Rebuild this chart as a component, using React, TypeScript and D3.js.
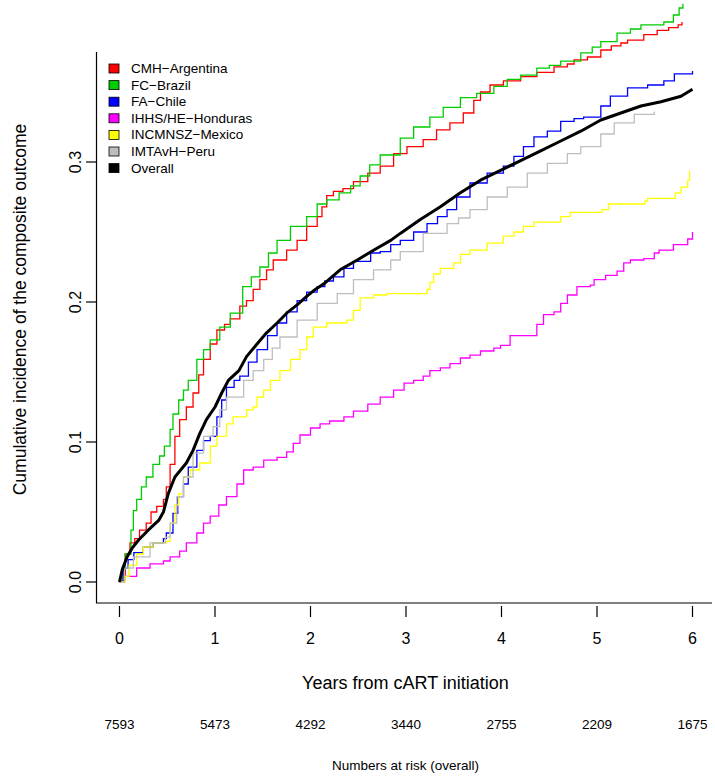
import React from "react";
import * as d3 from "d3";

// cumulative incidence: [years, incidence]
const argentina: [number, number][] = [
  [0, 0], [0.02, 0.001], [0.06, 0.02], [0.11, 0.028], [0.16, 0.031], [0.21, 0.037], [0.28, 0.042],
  [0.33, 0.05], [0.39, 0.054], [0.46, 0.059], [0.49, 0.068], [0.53, 0.084], [0.58, 0.104], [0.63, 0.116],
  [0.7, 0.125], [0.77, 0.135], [0.83, 0.148], [0.88, 0.159], [0.95, 0.17], [1.02, 0.18], [1.1, 0.184],
  [1.16, 0.188], [1.26, 0.197], [1.33, 0.201], [1.4, 0.209], [1.47, 0.216], [1.54, 0.223], [1.61, 0.23],
  [1.75, 0.237], [1.86, 0.244], [1.96, 0.254], [2.07, 0.261], [2.12, 0.268], [2.17, 0.276], [2.24, 0.279],
  [2.34, 0.281], [2.45, 0.286], [2.6, 0.292], [2.73, 0.297], [2.87, 0.306], [3.01, 0.311], [3.18, 0.316],
  [3.32, 0.323], [3.46, 0.328], [3.6, 0.335], [3.71, 0.344], [3.78, 0.35], [3.88, 0.355], [4.02, 0.358],
  [4.2, 0.361], [4.37, 0.364], [4.55, 0.368], [4.69, 0.37], [4.76, 0.373], [4.9, 0.375], [5.04, 0.38],
  [5.15, 0.383], [5.25, 0.385], [5.32, 0.387], [5.49, 0.391], [5.63, 0.394], [5.75, 0.396], [5.85, 0.398],
  [5.89, 0.4],
];

const brazil: [number, number][] = [
  [0, 0], [0.03, 0.009], [0.06, 0.02], [0.12, 0.037], [0.145, 0.051], [0.18, 0.059], [0.23, 0.068],
  [0.28, 0.075], [0.35, 0.084], [0.42, 0.09], [0.47, 0.097], [0.53, 0.109], [0.56, 0.12], [0.62, 0.13],
  [0.67, 0.137], [0.72, 0.144], [0.81, 0.159], [0.88, 0.166], [0.95, 0.173], [1.05, 0.182], [1.16, 0.192],
  [1.29, 0.211], [1.38, 0.218], [1.47, 0.225], [1.56, 0.235], [1.65, 0.244], [1.79, 0.254], [1.96, 0.261],
  [2.07, 0.27], [2.17, 0.273], [2.3, 0.278], [2.42, 0.283], [2.52, 0.29], [2.62, 0.298], [2.73, 0.305],
  [2.94, 0.317], [3.08, 0.325], [3.25, 0.332], [3.39, 0.339], [3.57, 0.346], [3.74, 0.349], [3.92, 0.354],
  [4.06, 0.359], [4.2, 0.362], [4.37, 0.367], [4.5, 0.369], [4.62, 0.372], [4.83, 0.378], [4.95, 0.382],
  [5.04, 0.386], [5.21, 0.392], [5.35, 0.395], [5.46, 0.398], [5.7, 0.4], [5.8, 0.405], [5.86, 0.41],
  [5.9, 0.413],
];

const chile: [number, number][] = [
  [0, 0], [0.04, 0.01], [0.09, 0.016], [0.15, 0.021], [0.25, 0.025], [0.35, 0.028], [0.46, 0.031],
  [0.49, 0.035], [0.56, 0.049], [0.61, 0.061], [0.67, 0.07], [0.72, 0.082], [0.81, 0.094], [0.88, 0.101],
  [0.95, 0.104], [1.02, 0.118], [1.07, 0.13], [1.12, 0.139], [1.2, 0.144], [1.26, 0.147], [1.35, 0.157],
  [1.44, 0.166], [1.55, 0.176], [1.65, 0.185], [1.75, 0.193], [1.86, 0.201], [1.96, 0.207], [2.07, 0.211],
  [2.15, 0.215], [2.24, 0.218], [2.35, 0.224], [2.45, 0.229], [2.63, 0.235], [2.73, 0.236], [2.84, 0.241],
  [2.94, 0.244], [3.08, 0.25], [3.22, 0.256], [3.33, 0.261], [3.43, 0.266], [3.53, 0.275], [3.67, 0.285],
  [3.85, 0.292], [4.02, 0.297], [4.13, 0.304], [4.23, 0.311], [4.34, 0.318], [4.48, 0.322], [4.62, 0.329],
  [4.76, 0.331], [4.86, 0.332], [5.04, 0.34], [5.14, 0.347], [5.32, 0.353], [5.53, 0.355], [5.7, 0.358],
  [5.81, 0.363], [6.0, 0.365],
];

const honduras: [number, number][] = [
  [0, 0], [0.05, 0.004], [0.18, 0.01], [0.32, 0.013], [0.46, 0.015], [0.53, 0.018], [0.63, 0.022],
  [0.7, 0.028], [0.81, 0.035], [0.88, 0.042], [0.95, 0.047], [1.04, 0.055], [1.12, 0.061], [1.23, 0.07],
  [1.3, 0.08], [1.4, 0.082], [1.51, 0.087], [1.65, 0.089], [1.75, 0.093], [1.82, 0.099], [1.89, 0.105],
  [2.0, 0.11], [2.1, 0.113], [2.2, 0.115], [2.35, 0.118], [2.45, 0.122], [2.6, 0.127], [2.73, 0.132],
  [2.87, 0.137], [2.98, 0.142], [3.08, 0.144], [3.18, 0.147], [3.25, 0.151], [3.36, 0.153], [3.46, 0.156],
  [3.57, 0.16], [3.67, 0.162], [3.78, 0.165], [3.92, 0.167], [3.99, 0.169], [4.09, 0.176], [4.32, 0.176],
  [4.37, 0.184], [4.44, 0.191], [4.55, 0.193], [4.62, 0.199], [4.69, 0.205], [4.79, 0.211], [4.93, 0.212],
  [4.97, 0.216], [5.09, 0.219], [5.21, 0.222], [5.28, 0.228], [5.35, 0.23], [5.49, 0.231], [5.6, 0.235],
  [5.65, 0.237], [5.8, 0.241], [5.95, 0.245], [6.0, 0.25],
];

const mexico: [number, number][] = [
  [0, 0], [0.06, 0.004], [0.1, 0.012], [0.18, 0.02], [0.25, 0.025], [0.35, 0.028], [0.49, 0.029],
  [0.53, 0.042], [0.58, 0.055], [0.62, 0.063], [0.67, 0.075], [0.74, 0.08], [0.84, 0.085], [0.95, 0.097],
  [1.02, 0.104], [1.12, 0.113], [1.19, 0.118], [1.33, 0.123], [1.4, 0.125], [1.44, 0.132], [1.51, 0.137],
  [1.58, 0.144], [1.68, 0.151], [1.79, 0.159], [1.89, 0.166], [1.96, 0.175], [2.03, 0.182], [2.17, 0.185],
  [2.38, 0.187], [2.45, 0.194], [2.52, 0.203], [2.66, 0.205], [2.8, 0.206], [3.22, 0.209], [3.25, 0.214],
  [3.29, 0.22], [3.36, 0.224], [3.5, 0.228], [3.57, 0.234], [3.67, 0.237], [3.85, 0.242], [4.02, 0.247],
  [4.13, 0.25], [4.23, 0.254], [4.34, 0.257], [4.62, 0.261], [4.72, 0.264], [5.05, 0.266], [5.12, 0.27],
  [5.5, 0.272], [5.53, 0.274], [5.82, 0.278], [5.88, 0.282], [5.95, 0.287], [5.97, 0.294],
];

const peru: [number, number][] = [
  [0, 0], [0.05, 0.01], [0.145, 0.018], [0.32, 0.028], [0.48, 0.032], [0.53, 0.042], [0.6, 0.061],
  [0.67, 0.075], [0.77, 0.092], [0.88, 0.104], [0.98, 0.111], [1.05, 0.123], [1.12, 0.132], [1.3, 0.144],
  [1.4, 0.151], [1.51, 0.159], [1.6, 0.167], [1.68, 0.175], [1.86, 0.187], [2.07, 0.199], [2.28, 0.206],
  [2.45, 0.216], [2.66, 0.223], [2.84, 0.23], [2.94, 0.236], [3.18, 0.249], [3.43, 0.256], [3.55, 0.26],
  [3.67, 0.266], [3.85, 0.275], [4.06, 0.282], [4.27, 0.292], [4.48, 0.299], [4.69, 0.306], [4.83, 0.311],
  [5.04, 0.32], [5.18, 0.328], [5.39, 0.334], [5.6, 0.336],
];

const overall: [number, number][] = [
  [0, 0], [0.03, 0.009], [0.08, 0.018], [0.13, 0.024], [0.2, 0.03], [0.3, 0.037], [0.41, 0.044],
  [0.46, 0.05], [0.51, 0.063], [0.58, 0.075], [0.7, 0.085], [0.77, 0.094], [0.84, 0.106], [0.91, 0.116],
  [1.0, 0.125], [1.07, 0.135], [1.14, 0.144], [1.25, 0.151], [1.33, 0.161], [1.44, 0.17], [1.54, 0.178],
  [1.65, 0.185], [1.75, 0.192], [1.86, 0.198], [1.96, 0.204], [2.05, 0.209], [2.14, 0.213], [2.31, 0.223],
  [2.49, 0.23], [2.66, 0.237], [2.84, 0.244], [2.94, 0.249], [3.15, 0.259], [3.36, 0.268], [3.57, 0.278],
  [3.78, 0.287], [3.99, 0.294], [4.2, 0.301], [4.41, 0.308], [4.62, 0.315], [4.83, 0.322], [5.04, 0.33],
  [5.25, 0.335], [5.46, 0.34], [5.67, 0.343], [5.88, 0.347], [6.0, 0.352],
];

const siteNames = [
  "CMH\u2212Argentina",
  "FC\u2212Brazil",
  "FA\u2212Chile",
  "IHHS/HE\u2212Honduras",
  "INCMNSZ\u2212Mexico",
  "IMTAvH\u2212Peru",
  "Overall",
];
const siteColors = ["#ff0000", "#00cd00", "#0000ff", "#ff00ff", "#ffff00", "#bebebe", "#000000"];
const siteData = [argentina, brazil, chile, honduras, mexico, peru, overall];

const xTicks = [0, 1, 2, 3, 4, 5, 6];
const yTicks = [0, 0.1, 0.2, 0.3];
const atRisk = [7593, 5473, 4292, 3440, 2755, 2209, 1675];

const FONT = "'Liberation Sans', Arial, Helvetica, sans-serif";

export default function App() {
  const width = 715;
  const height = 779;
  const left = 96.5;
  const bottom = 603;

  const x = d3.scaleLinear().domain([0, 6]).range([119.5, 692.5]);
  const y = d3.scaleLinear().domain([0, 0.3]).range([582, 162]);

  const stepLine = d3
    .line<[number, number]>()
    .x((d) => x(d[0]))
    .y((d) => y(d[1]))
    .curve(d3.curveStepAfter);

  const smoothLine = d3
    .line<[number, number]>()
    .x((d) => x(d[0]))
    .y((d) => y(d[1]));

  const midX = (x(0) + x(6)) / 2 - 0.5;

  return (
    <svg
      width={width}
      height={height}
      style={{ position: "absolute", left: 0, top: 0, background: "#fff" }}
      fontFamily={FONT}
    >
      {/* L-shaped box */}
      <path d={`M${left},52V${bottom}H712`} fill="none" stroke="#000" strokeWidth={1.2} />

      {/* y axis ticks and labels */}
      {yTicks.map((t) => (
        <g key={"y" + t}>
          <line x1={left - 10.5} x2={left} y1={y(t)} y2={y(t)} stroke="#000" strokeWidth={1.2} />
          <text
            transform={`translate(75,${y(t)}) rotate(-90)`}
            textAnchor="middle"
            dominantBaseline="central"
            fontSize={16}
          >
            {t.toFixed(1)}
          </text>
        </g>
      ))}

      {/* x axis ticks, labels and numbers at risk */}
      {xTicks.map((t, i) => (
        <g key={"x" + t}>
          <line x1={x(t)} x2={x(t)} y1={606} y2={617} stroke="#000" strokeWidth={1.2} />
          <text x={x(t)} y={638} textAnchor="middle" dominantBaseline="central" fontSize={16}>
            {t}
          </text>
          <text x={x(t)} y={724} textAnchor="middle" dominantBaseline="central" fontSize={13.5}>
            {atRisk[i]}
          </text>
        </g>
      ))}

      <text x={midX} y={683} textAnchor="middle" dominantBaseline="central" fontSize={18}>
        Years from cART initiation
      </text>
      <text x={midX} y={765} textAnchor="middle" dominantBaseline="central" fontSize={13.5}>
        Numbers at risk (overall)
      </text>
      <text
        transform={`translate(20,${(52 + 583) / 2 - 8}) rotate(-90)`}
        textAnchor="middle"
        dominantBaseline="central"
        fontSize={17.5}
      >
        Cumulative incidence of the composite outcome
      </text>

      {/* curves */}
      {siteData.map((d, i) =>
        i < 6 ? (
          <path key={siteNames[i]} d={stepLine(d) || ""} fill="none" stroke={siteColors[i]} strokeWidth={1.3} />
        ) : null
      )}
      <path d={smoothLine(overall) || ""} fill="none" stroke="#000" strokeWidth={3} strokeLinejoin="round" />

      {/* legend */}
      {siteNames.map((name, i) => {
        const cy = 68.5 + i * 16.6;
        return (
          <g key={"lg" + i}>
            <rect x={109} y={cy - 4.5} width={10} height={9} fill={siteColors[i]} stroke="#000" strokeWidth={0.8} />
            <text x={131} y={cy} dominantBaseline="central" fontSize={13.5}>
              {name}
            </text>
          </g>
        );
      })}
    </svg>
  );
}
